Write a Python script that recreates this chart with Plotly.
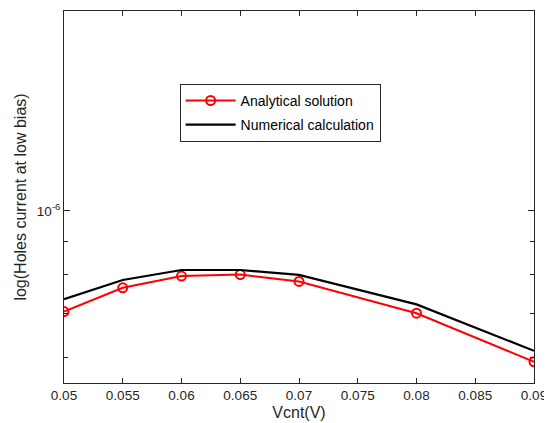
import plotly.graph_objects as go

vcnt = [0.05, 0.055, 0.06, 0.065, 0.07, 0.08, 0.09]
analytical = [7.04e-7, 7.65e-7, 7.97e-7, 8.01e-7, 7.82e-7, 7.00e-7, 5.91e-7]
numerical = [7.35e-7, 7.86e-7, 8.14e-7, 8.14e-7, 8.00e-7, 7.22e-7, 6.14e-7]
x_ticks = [0.05, 0.055, 0.06, 0.065, 0.07, 0.075, 0.08, 0.085, 0.09]
x_ticklabels = ["0.05", "0.055", "0.06", "0.065", "0.07", "0.075", "0.08", "0.085", "0.09"]
y_ticks = [1e-6]
y_ticklabels = ["10<sup>-6</sup>"]
y_minor = [6e-7, 7e-7, 8e-7, 9e-7]

font = "Liberation Sans, Arial, sans-serif"
fig = go.Figure()
fig.add_trace(go.Scatter(x=vcnt, y=analytical, mode="lines+markers", name="Analytical solution",
                         legendgroup="a",
                         line=dict(color="red", width=2),
                         marker=dict(symbol="circle-open", size=9, color="red", line=dict(width=2))))
fig.add_trace(go.Scatter(x=vcnt, y=numerical, mode="lines", name="Numerical calculation",
                         legendgroup="b",
                         line=dict(color="black", width=2.2)))

# page body has an 8px default margin, so the figure is sized/offset to compensate
fig.update_layout(
    width=544, height=415,
    margin=dict(l=55.5, r=17.5, t=3, b=40),
    paper_bgcolor="white", plot_bgcolor="white",
    font=dict(family=font, size=13, color="#262626"),
    showlegend=True,
    legend=dict(x=0.246, y=0.804, xanchor="left", yanchor="top",
                bordercolor="#262626", borderwidth=1, bgcolor="white",
                font=dict(size=14, color="#000"), itemwidth=50,
                tracegroupgap=3),
)
fig.update_xaxes(range=[0.05, 0.09], tickvals=x_ticks, ticktext=x_ticklabels,
                 ticks="inside", ticklen=5, tickcolor="#262626", mirror="ticks",
                 showline=True, linecolor="#262626", linewidth=1, showgrid=False,
                 zeroline=False, automargin=False, title=dict(text="Vcnt(V)", standoff=4),
                 tickfont=dict(size=13.5))
fig.update_yaxes(type="log", range=[-6.2606, -5.697], tickvals=y_ticks, ticktext=y_ticklabels,
                 ticks="inside", ticklen=6, tickcolor="#262626", mirror="ticks",
                 showline=True, linecolor="#262626", linewidth=1, showgrid=False,
                 zeroline=False, automargin=False,
                 title=dict(text="log(Holes current at low bias)", standoff=6),
                 minor=dict(tickvals=y_minor, ticks="inside", ticklen=4, tickcolor="#262626", showgrid=False),
                 tickfont=dict(size=13.5))
fig.write_html("out.html")
